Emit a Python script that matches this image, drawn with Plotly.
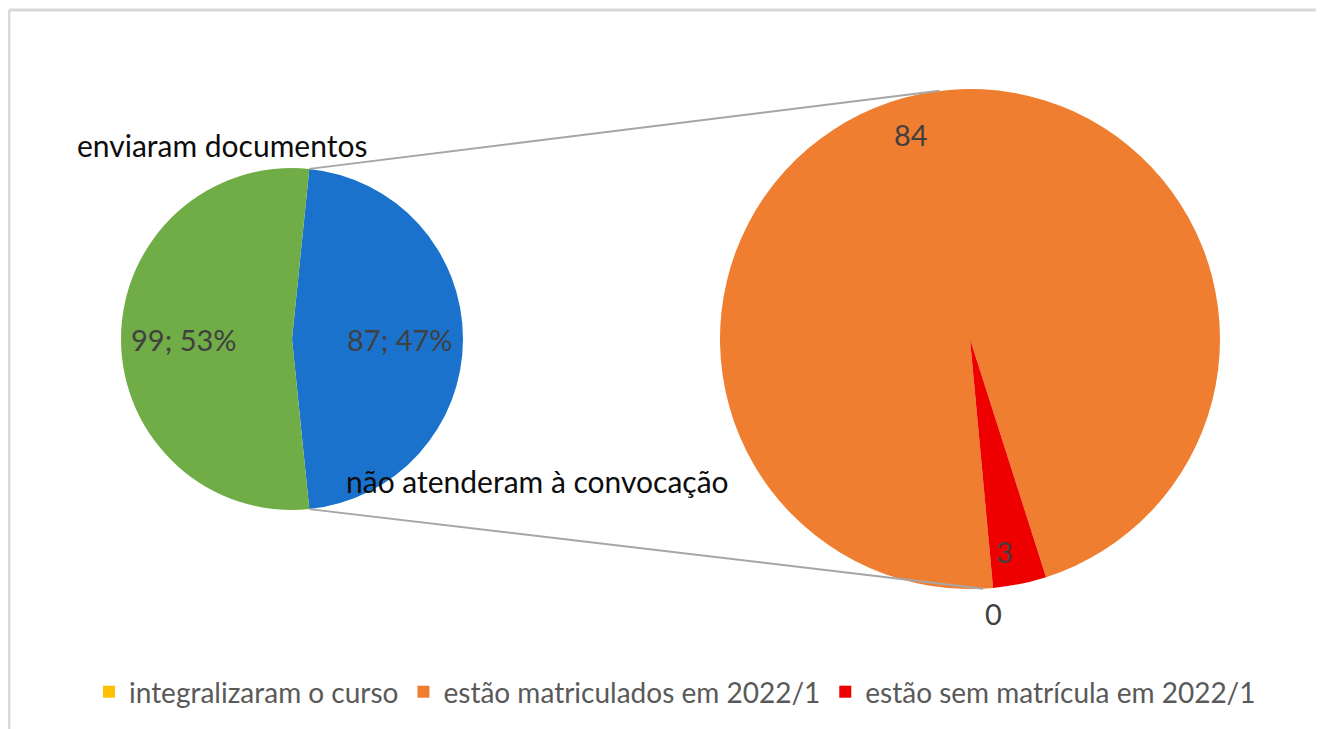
import math
import plotly.graph_objects as go

W, H = 1324, 729
OFF = 8  # page body margin

# ---- data ----
main_labels = ["não atenderam à convocação", "enviaram documentos"]
main_values = [87, 99]
main_colors = ["#1a72cc", "#70ad47"]

sub_labels = ["integralizaram o curso", "estão matriculados em 2022/1", "estão sem matrícula em 2022/1"]
sub_values = [0, 84, 3]
sub_colors = ["#ffc000", "#f07e30", "#ee0000"]

# ---- layout geometry (pixels in screenshot) ----
c1 = (292, 339); r1 = 171
c2 = (970, 339); r2 = 250
# label placement per sub slice: (angle offset from slice middle, radius factor)
sub_label_place = [(0.5, 1.1), (-4.6, 0.85), (2.3, 0.86)]

def px(x):
    return (x - OFF) / W

def py(y):
    return 1 - (y - OFF) / H

tot1 = sum(main_values)
blue_span = main_values[0] / tot1 * 360
rot1 = 90 - blue_span / 2          # split slice centred on the right
rot2 = 174.7
tot2 = sum(sub_values)

def point(c, r, ang, f=1.0):
    a = math.radians(ang)
    return c[0] + f * r * math.sin(a), c[1] - f * r * math.cos(a)

fig = go.Figure()
fig.add_trace(go.Pie(
    labels=main_labels, values=main_values, sort=False, direction="clockwise",
    rotation=rot1, marker=dict(colors=main_colors, line=dict(width=0)),
    textinfo="none", showlegend=False, hoverinfo="label+value+percent",
    domain=dict(x=[px(c1[0] - r1), px(c1[0] + r1)], y=[py(c1[1] + r1), py(c1[1] - r1)]),
))
fig.add_trace(go.Pie(
    labels=sub_labels, values=sub_values, sort=False, direction="clockwise",
    rotation=rot2, marker=dict(colors=sub_colors, line=dict(width=0)),
    textinfo="none", showlegend=True, hoverinfo="label+value",
    domain=dict(x=[px(c2[0] - r2), px(c2[0] + r2)], y=[py(c2[1] + r2), py(c2[1] - r2)]),
))

annotations = []
FONT = "Lato, Noto Sans, sans-serif"
label_font = dict(family=FONT, size=29, color="#404040")

# main pie data labels
start = rot1
for v in main_values:
    span = v / tot1 * 360
    mid = start + span / 2
    x, y = point(c1, r1, mid, 0.63)
    annotations.append(dict(x=px(x), y=py(y), xref="paper", yref="paper",
                            text=f"{v}; {round(v / tot1 * 100)}%", showarrow=False,
                            font=label_font, xanchor="center", yanchor="middle"))
    start += span

# sub pie data labels
start = rot2
for v, (da, f) in zip(sub_values, sub_label_place):
    span = v / tot2 * 360
    mid = start + span / 2 + da
    x, y = point(c2, r2, mid, f)
    annotations.append(dict(x=px(x), y=py(y), xref="paper", yref="paper",
                            text=str(v), showarrow=False, font=label_font,
                            xanchor="center", yanchor="middle"))
    start += span

# category labels
cat_font = dict(family=FONT, size=30, color="#0d0d0d")
annotations.append(dict(x=px(222), y=py(145), xref="paper", yref="paper",
                        text=main_labels[1], showarrow=False, font=cat_font,
                        xanchor="center", yanchor="middle"))
annotations.append(dict(x=px(537), y=py(481), xref="paper", yref="paper",
                        text=main_labels[0], showarrow=False, font=cat_font,
                        xanchor="center", yanchor="middle"))

# connector lines
shapes = []
a_top = rot1
a_bot = rot1 + blue_span
p1 = point(c1, r1, a_top); q1 = point(c2, r2, 353)
p2 = point(c1, r1, a_bot); q2 = point(c2, r2, 177)
for p, q in [(p1, q1), (p2, q2)]:
    shapes.append(dict(type="line", xref="paper", yref="paper",
                       x0=px(p[0]), y0=py(p[1]), x1=px(q[0]), y1=py(q[1]),
                       line=dict(color="#a6a6a6", width=2)))

# chart frame
shapes.append(dict(type="line", xref="paper", yref="paper", x0=px(9), y0=py(10), x1=1.0, y1=py(10),
                   line=dict(color="#d9d9d9", width=3)))
shapes.append(dict(type="line", xref="paper", yref="paper", x0=px(9), y0=py(10), x1=px(9), y1=0.0,
                   line=dict(color="#d9d9d9", width=3)))

fig.update_layout(
    width=W, height=H, margin=dict(l=0, r=0, t=0, b=0),
    paper_bgcolor="white", plot_bgcolor="white",
    annotations=annotations, shapes=shapes,
    legend=dict(orientation="h", x=px(675), xanchor="center", y=py(692), yanchor="middle",
                font=dict(family=FONT, size=28, color="#595959"),
                itemsizing="constant", traceorder="normal"),
)

fig.write_html("out.html")
